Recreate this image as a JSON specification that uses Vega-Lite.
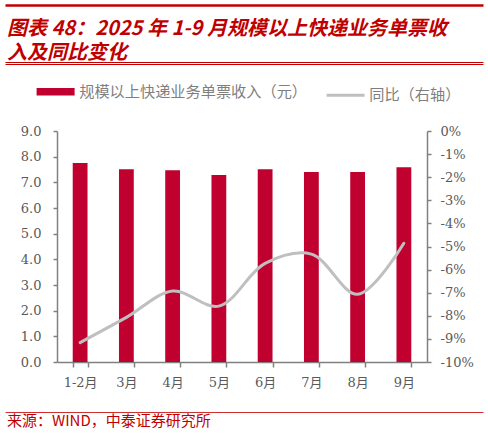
{
  "$schema": "https://vega.github.io/schema/vega-lite/v6.json",
  "description": "2025年1-9月规模以上快递业务单票收入及同比变化",
  "background": "white",
  "padding": {"left": 5, "right": 5, "top": 5, "bottom": 5},
  "spacing": 1,
  "resolve": {"scale": {"color": "independent"}, "legend": {"color": "independent"}},
  "config": {
    "view": {"stroke": null},
    "axis": {
      "domainColor": "#808080",
      "domainWidth": 1.5,
      "tickColor": "#808080",
      "tickWidth": 1.5,
      "tickSize": 4,
      "grid": false,
      "labelColor": "#595959",
      "labelFont": "DejaVu Serif, Noto Sans CJK SC",
      "labelFontSize": 13,
      "title": null
    }
  },
  "vconcat": [
    {
      "width": 478,
      "height": 57,
      "data": {
        "values": [
          {"part": "标题", "row": 1, "line": "图表 48：2025 年 1-9 月规模以上快递业务单票收"},
          {"part": "标题", "row": 2, "line": "入及同比变化"}
        ]
      },
      "layer": [
        {
          "mark": {
            "type": "text",
            "align": "left",
            "baseline": "middle",
            "font": "Noto Sans CJK SC",
            "fontSize": 20,
            "fontWeight": "bold",
            "fontStyle": "italic",
            "fill": "#C00000",
            "dx": 2
          },
          "encoding": {
            "x": {
              "field": "part",
              "type": "nominal",
              "bandPosition": 0,
              "scale": {"type": "band", "paddingInner": 0, "paddingOuter": 0},
              "axis": {
                "orient": "top",
                "domainColor": "#C00000",
                "domainWidth": 2.5,
                "ticks": false,
                "labels": false,
                "minExtent": 0,
                "maxExtent": 0
              }
            },
            "y": {
              "field": "row",
              "type": "quantitative",
              "scale": {"domain": [0.115, 2.307], "reverse": true},
              "axis": null
            },
            "text": {"field": "line"}
          }
        },
        {
          "mark": {
            "type": "text",
            "opacity": 0,
            "align": "left",
            "baseline": "middle",
            "font": "Noto Sans CJK SC",
            "fontSize": 20,
            "fontWeight": "bold",
            "fontStyle": "italic",
            "dx": 2
          },
          "encoding": {
            "x": {
              "field": "part",
              "type": "nominal",
              "bandPosition": 0,
              "scale": {"type": "band", "paddingInner": 0, "paddingOuter": 0},
              "axis": {
                "orient": "bottom",
                "domainColor": "#C00000",
                "domainWidth": 1.2,
                "ticks": false,
                "labels": false,
                "minExtent": 0,
                "maxExtent": 0
              }
            },
            "y": {"field": "row", "type": "quantitative"},
            "text": {"field": "line"}
          }
        }
      ],
      "resolve": {"scale": {"x": "independent"}, "axis": {"x": "independent"}}
    },
    {
      "width": 478,
      "height": 19,
      "data": {"values": [{"part": "标题"}]},
      "mark": {"type": "text", "opacity": 0, "align": "left", "fontSize": 8},
      "encoding": {
        "x": {
          "field": "part",
          "type": "nominal",
          "bandPosition": 0,
          "scale": {"type": "band", "paddingInner": 0, "paddingOuter": 0},
          "axis": {
            "orient": "top",
            "domainColor": "#C00000",
            "domainWidth": 1.2,
            "ticks": false,
            "labels": false,
            "minExtent": 0,
            "maxExtent": 0
          }
        },
        "text": {"field": "part"}
      }
    },
    {
      "spacing": 0,
      "resolve": {"scale": {"color": "independent"}, "legend": {"color": "independent"}},
      "hconcat": [
        {
          "width": 1,
          "height": 1,
          "data": {"values": []},
          "mark": "point"
        },
        {
          "width": 370,
          "height": 231,
          "data": {
            "values": [
              {"month": "1-2月", "income": 7.75, "yoy": -9.16},
              {"month": "3月", "income": 7.51, "yoy": -8.07},
              {"month": "4月", "income": 7.47, "yoy": -6.93},
              {"month": "5月", "income": 7.29, "yoy": -7.58},
              {"month": "6月", "income": 7.51, "yoy": -5.73},
              {"month": "7月", "income": 7.40, "yoy": -5.33},
              {"month": "8月", "income": 7.40, "yoy": -7.07},
              {"month": "9月", "income": 7.59, "yoy": -4.86}
            ]
          },
          "layer": [
            {
              "mark": {"type": "bar"},
              "encoding": {
                "x": {
                  "field": "month",
                  "type": "ordinal",
                  "sort": null,
                  "scale": {"paddingInner": 0.68, "paddingOuter": 0.34},
                  "axis": {
                    "labelAngle": 0,
                    "tickBand": "extent",
                    "tickSize": 5,
                    "labelPadding": 9,
                    "minExtent": 49,
                    "maxExtent": 49
                  }
                },
                "y": {
                  "field": "income",
                  "type": "quantitative",
                  "scale": {"domain": [0, 9], "nice": false},
                  "axis": {
                    "orient": "left",
                    "values": [0, 1, 2, 3, 4, 5, 6, 7, 8, 9],
                    "format": ".1f",
                    "labelPadding": 12,
                    "minExtent": 51,
                    "maxExtent": 51
                  }
                },
                "color": {
                  "datum": "规模以上快递业务单票收入（元）",
                  "type": "nominal",
                  "scale": {
                    "domain": ["规模以上快递业务单票收入（元）", "同比（右轴）"],
                    "range": ["#C0002F", "#BFBFBF"]
                  },
                  "legend": {
                    "title": null,
                    "orient": "none",
                    "legendX": -9,
                    "legendY": -47,
                    "direction": "horizontal",
                    "symbolType": "stroke",
                    "symbolSize": 1444,
                    "labelFont": "Noto Sans CJK SC",
                    "labelFontSize": 15.2,
                    "labelColor": "#7F7F7F",
                    "labelOffset": 16,
                    "columnPadding": 12,
                    "labelLimit": 400,
                    "encode": {
                      "symbols": {
                        "update": {
                          "strokeWidth": {"signal": "datum.value === '同比（右轴）' ? 3 : 7.5"},
                          "stroke": {"scale": "color", "field": "value"},
                          "fill": {"value": "transparent"},
                          "opacity": {"value": 1}
                        }
                      }
                    }
                  }
                }
              }
            },
            {
              "mark": {"type": "line", "interpolate": "catmull-rom", "strokeWidth": 3, "strokeCap": "round"},
              "encoding": {
                "x": {"field": "month", "type": "ordinal", "sort": null},
                "y": {
                  "field": "yoy",
                  "type": "quantitative",
                  "scale": {"domain": [-10, 0], "nice": false},
                  "axis": {
                    "orient": "right",
                    "values": [-10, -9, -8, -7, -6, -5, -4, -3, -2, -1, 0],
                    "labelExpr": "datum.value + '%'",
                    "labelPadding": 9
                  }
                },
                "color": {"datum": "同比（右轴）", "type": "nominal"}
              }
            }
          ],
          "resolve": {"scale": {"y": "independent"}}
        }
      ]
    },
    {
      "width": 478,
      "height": 18,
      "data": {"values": [{"src": "来源：WIND，中泰证券研究所"}]},
      "mark": {
        "type": "text",
        "align": "left",
        "baseline": "middle",
        "font": "Noto Sans CJK SC",
        "fontSize": 15,
        "fill": "#C00000",
        "dx": 2
      },
      "encoding": {
        "x": {
          "field": "src",
          "type": "nominal",
          "bandPosition": 0,
          "scale": {"type": "band", "paddingInner": 0, "paddingOuter": 0},
          "axis": {
            "orient": "top",
            "domainColor": "#D03030",
            "domainWidth": 1.2,
            "ticks": false,
            "labels": false,
            "minExtent": 0,
            "maxExtent": 0
          }
        },
        "text": {"field": "src"}
      }
    }
  ]
}
